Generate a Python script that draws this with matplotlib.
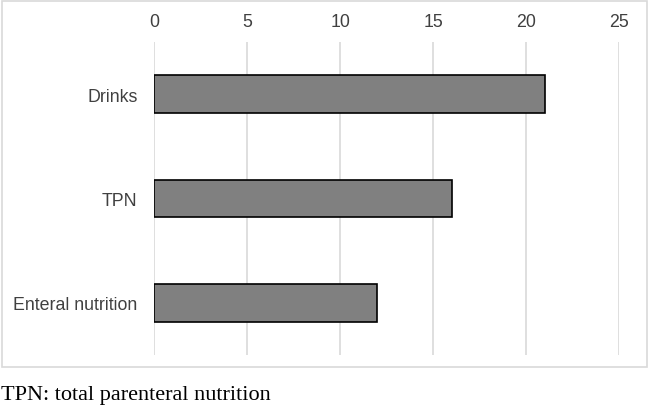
import matplotlib
matplotlib.use("Agg")
import matplotlib.pyplot as plt
from matplotlib.patches import Rectangle

categories = ["Drinks", "TPN", "Enteral nutrition"]
values = [21, 16, 12]
x_ticks = [0, 5, 10, 15, 20, 25]
caption = "TPN: total parenteral nutrition"

W, H = 649, 410
fig = plt.figure(figsize=(W / 100, H / 100), dpi=100)
fig.patch.set_facecolor("white")

# chart area border
fig.patches.append(Rectangle((1.5 / W, 1 - 368 / H), 645 / W, 366.5 / H,
                             transform=fig.transFigure, fill=False,
                             edgecolor="#d9d9d9", linewidth=1.2))

ax = fig.add_axes([154.3 / W, 1 - 356 / H, (619 - 154.3) / W, (356 - 43) / H])

pos = list(range(len(categories)))
ax.barh(pos, values, height=0.36, color="#808080", edgecolor="black",
        linewidth=1.2, zorder=3)

ax.set_xlim(0, 25)
ax.set_ylim(len(categories) - 0.5, -0.5)
ax.set_xticks(x_ticks)
ax.set_yticks(pos)
ax.set_yticklabels(categories)
ax.xaxis.tick_top()
ax.grid(axis="x", color="#d9d9d9", linewidth=1.2, zorder=0)
for s in ax.spines.values():
    s.set_visible(False)
ax.tick_params(axis="both", length=0, labelsize=12.8, labelcolor="#404040",
               labelfontfamily="Liberation Sans")
ax.tick_params(axis="x", pad=8.5)
ax.tick_params(axis="y", pad=12)

fig.text(1 / W, 1 - 396 / H, caption, fontsize=16, family="Liberation Serif",
         color="black", va="center", ha="left")

fig.savefig("out.png", dpi=100, facecolor="white")
